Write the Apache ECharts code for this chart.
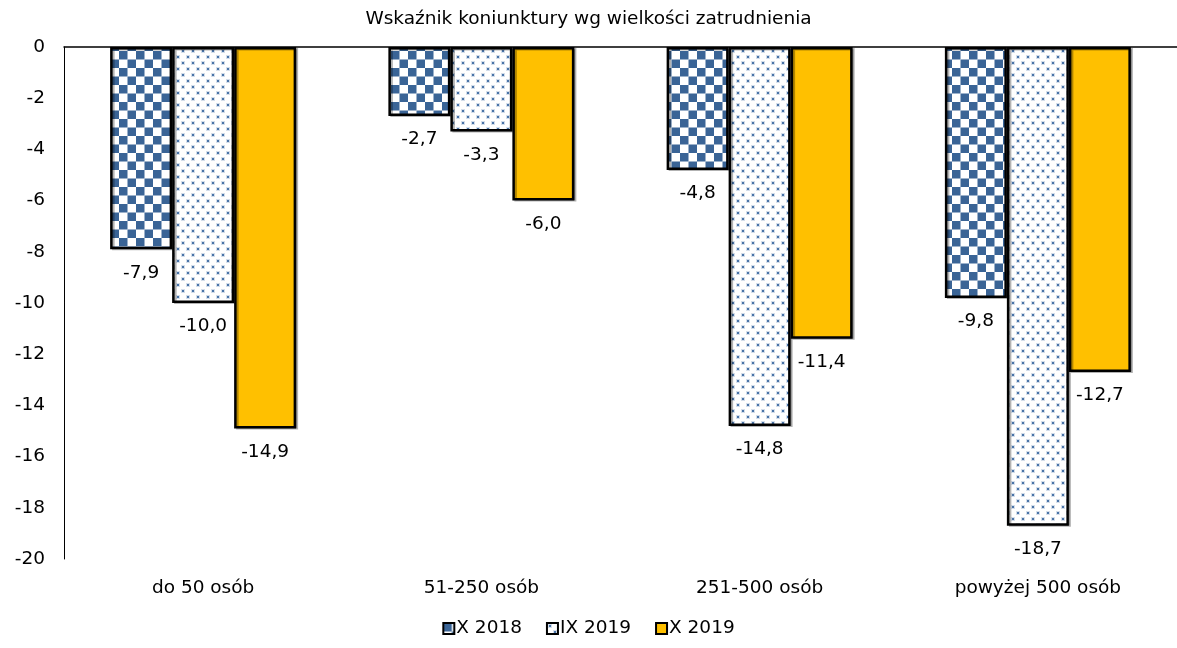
<!DOCTYPE html>
<html>
<head>
<meta charset="utf-8">
<script src="https://cdn.jsdelivr.net/npm/echarts@6/dist/echarts.min.js"></script>
<style>
  html, body { margin: 0; padding: 0; background: #fff; }
  #chart { width: 1177px; height: 648px; }
</style>
</head>
<body>
<div id="chart"></div>
<script>
const titleText = 'Wskaźnik koniunktury wg wielkości zatrudnienia';
const categories = ['do 50 osób', '51-250 osób', '251-500 osób', 'powyżej 500 osób'];
const seriesNames = ['X 2018', 'IX 2019', 'X 2019'];
const valuesX2018 = [-7.9, -2.7, -4.8, -9.8];
const valuesIX2019 = [-10.0, -3.3, -14.8, -18.7];
const valuesX2019 = [-14.9, -6.0, -11.4, -12.7];
const yMin = -20, yMax = 0, yStep = 2;

const FONT = '"DejaVu Sans", Verdana, sans-serif';
const FS = 18.5;

// Checkerboard fill
function checkerPattern() {
  const c = document.createElement('canvas');
  c.width = 17; c.height = 17;
  const g = c.getContext('2d');
  g.fillStyle = '#ffffff'; g.fillRect(0, 0, 17, 17);
  g.fillStyle = '#3a6496';
  g.fillRect(0, 0, 8.5, 8.5);
  g.fillRect(8.5, 8.5, 8.5, 8.5);
  return c;
}
// Sparse staggered dots fill
function dotPattern() {
  const c = document.createElement('canvas');
  c.width = 10; c.height = 12;
  const g = c.getContext('2d');
  g.fillStyle = '#ffffff'; g.fillRect(0, 0, 10, 12);
  g.fillStyle = '#d3ddea';
  g.fillRect(1, 1, 4, 4);
  g.fillRect(6, 7, 4, 4);
  g.fillStyle = '#4a74a8';
  g.fillRect(2, 2, 2, 2);
  g.fillRect(7, 8, 2, 2);
  return c;
}

const fills = [
  { image: checkerPattern(), repeat: 'repeat' },
  { image: dotPattern(), repeat: 'repeat' },
  '#ffc000'
];

const fmt = v => v.toFixed(1).replace('.', ',');

const chart = echarts.init(document.getElementById('chart'));
const dataSets = [valuesX2018, valuesIX2019, valuesX2019];

chart.setOption({
  animation: false,
  title: {
    text: titleText, left: 'center', top: 5,
    textStyle: { fontFamily: FONT, fontSize: FS, fontWeight: 'normal', color: '#000' }
  },
  legend: {
    bottom: 5, left: 'center', icon: 'rect',
    itemWidth: 11, itemHeight: 11, itemGap: 24,
    textStyle: { fontFamily: FONT, fontSize: FS, color: '#000', padding: [0, 0, 0, -3] },
    data: seriesNames.map(n => ({
      name: n,
      itemStyle: { borderColor: '#000', borderWidth: 2 }
    }))
  },
  grid: { left: 64, top: 47, width: 1120, height: 512, containLabel: false },
  xAxis: [
    {
      type: 'category', data: categories, position: 'bottom',
      axisLine: { show: false }, axisTick: { show: false },
      axisLabel: { margin: 20, fontFamily: FONT, fontSize: FS, color: '#000' }
    },
    {
      type: 'category', data: categories, position: 'top',
      axisLine: { show: true, lineStyle: { color: '#000', width: 1.5 } },
      axisTick: { show: false }, axisLabel: { show: false }
    }
  ],
  yAxis: {
    type: 'value', min: yMin, max: yMax, interval: yStep,
    axisLine: { show: true, lineStyle: { color: '#000', width: 1 } },
    axisTick: { show: false },
    splitLine: { show: false },
    axisLabel: { margin: 19, fontFamily: FONT, fontSize: FS, color: '#000' }
  },
  series: seriesNames.map((name, i) => ({
    name, type: 'bar', data: dataSets[i],
    barWidth: 62, barGap: '0%',
    itemStyle: {
      color: fills[i], borderColor: '#000', borderWidth: 2.5,
      shadowColor: 'rgba(0,0,0,0.3)', shadowOffsetX: 2, shadowOffsetY: 1, shadowBlur: 0
    },
    label: {
      show: true, position: 'bottom', distance: 14,
      formatter: p => fmt(p.value),
      fontFamily: FONT, fontSize: FS, color: '#000'
    }
  }))
});
</script>
</body>
</html>
